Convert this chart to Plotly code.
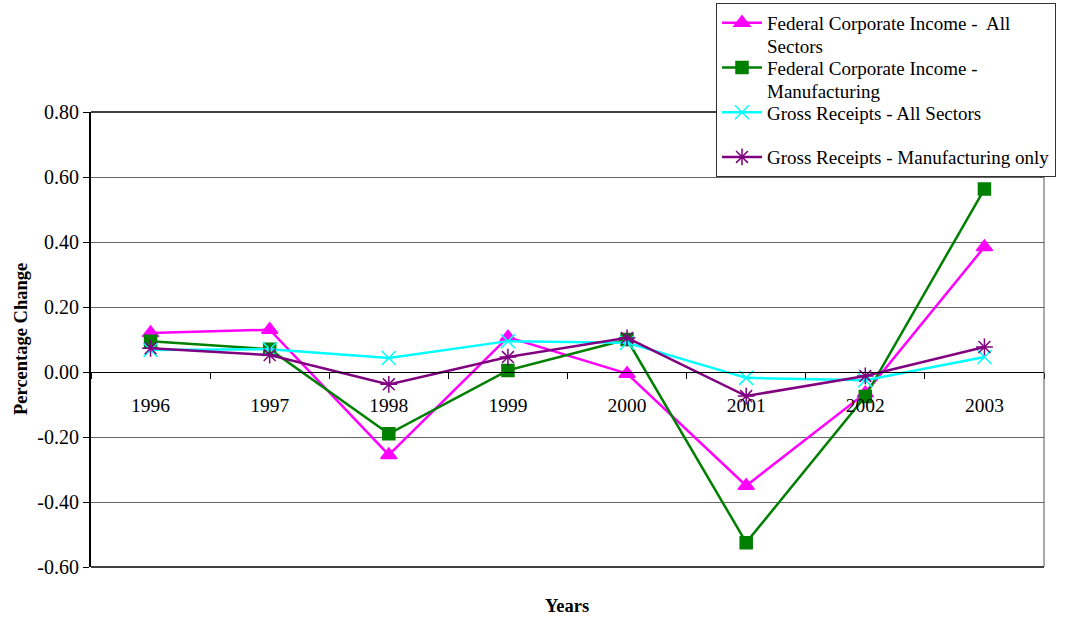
import plotly.graph_objects as go

years = ["1996", "1997", "1998", "1999", "2000", "2001", "2002", "2003"]
fed_all = [0.12, 0.13, -0.255, 0.107, -0.005, -0.35, -0.065, 0.385]
fed_mfg = [0.095, 0.07, -0.19, 0.005, 0.10, -0.525, -0.075, 0.563]
gross_all = [0.068, 0.07, 0.043, 0.095, 0.09, -0.018, -0.025, 0.046]
gross_mfg = [0.073, 0.052, -0.038, 0.046, 0.105, -0.074, -0.012, 0.077]
y_ticks = [0.8, 0.6, 0.4, 0.2, 0.0, -0.2, -0.4, -0.6]
y_tick_text = ["0.80", "0.60", "0.40", "0.20", "0.00", "-0.20", "-0.40", "-0.60"]

names = [
    "Federal Corporate Income -  All",
    "Federal Corporate Income -",
    "Gross Receipts - All Sectors",
    "Gross Receipts - Manufacturing only",
]
name_second_lines = ["Sectors", "Manufacturing", "", ""]
series = [fed_all, fed_mfg, gross_all, gross_mfg]
colors = ["#FF00FF", "#008000", "#00FFFF", "#800080"]
symbols = ["triangle-up", "square", "x-thin", "asterisk-open"]
sizes = [14, 12, 14, 14]

FONT = "Liberation Serif, Times New Roman, serif"
fig = go.Figure()
for i, (nm, vals, c, s, sz) in enumerate(zip(names, series, colors, symbols, sizes)):
    fig.add_trace(go.Scatter(
        x=years, y=vals, name=nm, mode="lines+markers", legendgroup=f"g{i}",
        line=dict(color=c, width=2.5),
        marker=dict(symbol=s, size=sz, color=c, line=dict(color=c, width=1.5)),
    ))

ymin, ymax = -0.6, 0.8
zero_pos = (0 - ymin) / (ymax - ymin)

# plot area in page pixels
L, R, T, B = 91, 1044, 112, 567
def px(x):
    return (x - L) / (R - L)
def py(y):
    return (B - y) / (B - T)

annotations = [
    dict(text="<b>Years</b>", xref="paper", yref="paper", x=px(567), y=py(606),
         xanchor="center", yanchor="middle", showarrow=False,
         font=dict(family=FONT, size=18.5)),
    dict(text="<b>Percentage Change</b>", xref="paper", yref="paper",
         x=px(21), y=py(339), textangle=-90,
         xanchor="center", yanchor="middle", showarrow=False,
         font=dict(family=FONT, size=18.5)),
]
for txt, yc in zip(name_second_lines, [46, 92, 0, 0]):
    if txt:
        annotations.append(dict(
            text=txt, xref="paper", yref="paper", x=px(765), y=py(yc),
            xanchor="left", yanchor="middle", showarrow=False,
            font=dict(family=FONT, size=19, color="black")))

fig.update_layout(
    width=1066, height=620,
    margin=dict(l=L, r=1066 - R, t=T, b=620 - B, autoexpand=False),
    paper_bgcolor="white", plot_bgcolor="white",
    font=dict(family=FONT, size=19, color="black"),
    showlegend=True,
    legend=dict(
        xref="container", yref="container",
        x=1056 / 1066, xanchor="right", y=1 - 3 / 620, yanchor="top",
        bgcolor="white", bordercolor="#333333", borderwidth=1,
        font=dict(family=FONT, size=19, color="black"),
        valign="top", tracegroupgap=17, itemwidth=40,
    ),
    xaxis=dict(
        type="category", range=[-0.5, 7.5], automargin=False,
        anchor="free", position=zero_pos,
        showline=True, linecolor="black", linewidth=1,
        ticks="outside", tickson="boundaries", ticklen=6, tickcolor="black",
        showgrid=False, ticklabelstandoff=16,
        tickfont=dict(family=FONT, size=19.5),
    ),
    yaxis=dict(
        range=[ymin, ymax], tickvals=y_ticks, ticktext=y_tick_text,
        automargin=False,
        showline=True, linecolor="black", linewidth=2,
        ticks="outside", ticklen=6, tickcolor="black",
        showgrid=True, gridcolor="#666666", gridwidth=1,
        zeroline=False,
        tickfont=dict(family=FONT, size=20),
    ),
    shapes=[
        dict(type="line", xref="paper", yref="paper", x0=0, x1=1, y0=1, y1=1,
             line=dict(color="black", width=1.5)),
        dict(type="line", xref="paper", yref="paper", x0=0, x1=1, y0=0, y1=0,
             line=dict(color="black", width=1.5)),
        dict(type="line", xref="paper", yref="paper", x0=1, x1=1, y0=0, y1=1,
             line=dict(color="#555555", width=1)),
    ],
    annotations=annotations,
)

fig.write_html("out.html", config={"displayModeBar": False},
               post_script="document.body.style.margin='0px';")
